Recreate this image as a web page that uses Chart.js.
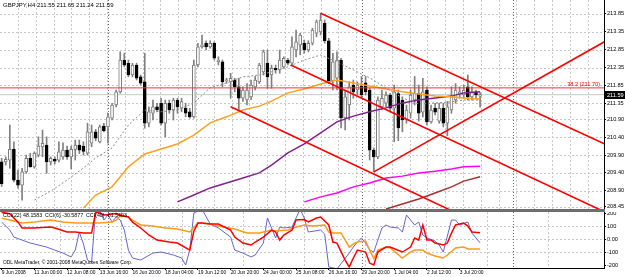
<!DOCTYPE html>
<html>
<head>
<meta charset="utf-8">
<script src="https://cdn.jsdelivr.net/npm/chart.js@4.4.1/dist/chart.umd.min.js"></script>
<style>
  body { margin: 0; background: #fff; }
  #wrap { position: relative; width: 625px; height: 277px; overflow: hidden; background: #fff; font-family: "Liberation Sans", Arial, sans-serif; }
  #priceChart { position: absolute; left: 0; top: 0; }
  #cciChart { position: absolute; left: 0; top: 212px; }
  #sep { position: absolute; left: 0; top: 209px; width: 605px; height: 3px; background: #6e6e6e; }
  .txt { position: absolute; font-size: 6px; line-height: 7px; white-space: nowrap; color: #000; }
</style>
</head>
<body>
<div id="wrap">
  <canvas id="priceChart" width="625" height="209"></canvas>
  <div id="sep"></div>
  <canvas id="cciChart" width="625" height="65"></canvas>
  <div class="txt" style="left:3px; top:2px;">GBPJPY,H4 211.55 211.65 211.24 211.59</div>
  <div class="txt" style="left:3px; top:212px; font-size:5.3px;">CCI(22) 48.1583 &nbsp;CCI(6) -30.5877 &nbsp;CCI(40) -81.5403</div>
  <div class="txt" style="left:3px; top:259px; font-size:4.9px;">ODL MetaTrader, © 2001-2008 MetaQuotes Software Corp.</div>
</div>
<script>
// GBPJPY H4 candles, one entry per bar
const opens = [209.71,209.71,209.76,210.06,209.20,209.06,209.43,209.81,209.57,209.90,210.13,210.18,209.71,209.78,209.76,209.85,210.04,209.85,210.06,210.18,210.15,
  209.95,210.23,210.55,210.27,210.71,210.69,210.93,211.30,211.67,212.56,212.47,212.14,212.42,212.09,211.95,210.79,211.07,211.25,211.35,210.79,211.35,211.16,211.44,211.21,211.21,211.11,210.97,212.42,212.93,213.03,212.93,213.03,212.51,212.51,211.98,
  211.95,212.00,211.81,211.49,211.44,211.53,211.81,211.95,212.23,212.47,212.14,212.33,212.28,212.37,212.56,212.47,212.84,212.98,213.03,212.84,213.03,213.31,213.35,213.59,213.10,211.98,212.05,212.56,210.94,211.30,211.86,211.72,211.83,211.92,211.72,210.04,209.85,211.25,211.35,211.58,211.21,211.62,211.44,210.88,211.07,211.44,211.62,211.10,211.72,210.83,211.21,210.85,211.21,210.79,211.16,211.44,211.58,211.58,211.81,211.53,211.67,211.55];
const highs = [209.81,209.85,210.74,210.27,209.48,209.53,209.90,209.95,209.99,210.41,210.60,210.41,209.85,209.85,210.27,210.24,210.15,210.15,210.32,210.32,210.27,
  210.79,210.74,210.62,210.74,210.79,211.07,211.35,211.72,212.79,212.75,212.56,212.47,212.47,212.14,212.75,211.25,211.44,211.35,211.49,211.44,211.44,211.49,211.49,211.49,211.35,211.21,212.56,213.03,213.26,213.10,213.10,213.07,212.65,212.56,212.05,
  212.19,212.05,212.05,211.81,211.90,212.00,212.10,212.47,212.84,212.84,212.42,212.42,212.84,212.65,212.61,213.21,213.40,213.31,213.12,213.10,213.45,213.68,213.87,213.68,213.17,212.75,212.79,212.61,211.70,211.95,212.00,211.95,212.10,212.10,211.78,210.10,211.53,211.72,211.67,211.63,211.86,211.72,211.53,211.30,211.72,212.10,211.86,212.05,211.81,211.30,211.35,211.35,211.35,211.40,211.81,211.90,211.81,211.86,212.14,211.81,211.72,211.65];
const lows = [209.02,209.62,209.53,209.15,208.97,208.64,209.39,209.56,209.53,209.85,209.85,209.39,209.62,209.65,209.71,209.78,209.78,209.51,209.76,209.94,209.90,
  209.90,210.13,210.30,210.24,210.55,210.23,210.88,211.25,211.63,212.37,212.09,212.09,212.00,211.86,210.65,210.69,210.88,211.11,210.74,210.41,211.07,210.88,211.07,211.11,210.97,210.93,210.93,212.37,212.89,212.84,212.89,212.56,212.42,211.81,211.91,
  211.49,211.67,211.16,211.40,211.30,211.45,211.72,211.90,212.14,211.77,211.77,212.19,212.19,212.33,212.42,212.42,212.65,212.70,212.75,212.79,212.98,213.21,213.26,213.03,211.90,211.72,211.72,210.66,210.60,210.88,211.49,211.60,211.49,211.58,209.76,209.43,209.80,211.16,211.25,211.10,210.27,210.30,210.55,210.79,210.93,211.30,210.85,210.97,210.74,210.79,211.02,210.79,210.69,210.44,211.07,211.35,211.49,211.49,211.44,211.44,211.49,211.24];
const closes = [209.10,209.78,210.06,209.20,209.06,209.43,209.81,209.57,209.95,210.15,210.23,209.71,209.81,209.73,209.99,210.04,209.85,210.06,210.18,210.04,210.00,
  210.55,210.55,210.37,210.69,210.58,210.97,211.30,211.67,212.56,212.42,212.14,212.42,212.05,211.91,210.79,211.11,211.25,211.16,210.79,211.35,211.16,211.44,211.25,211.40,211.07,210.97,212.42,212.93,212.98,212.93,213.03,212.61,212.56,211.95,212.00,
  212.05,211.81,211.49,211.72,211.72,211.86,212.00,212.42,212.79,212.09,212.33,212.28,212.56,212.61,212.47,212.93,213.07,213.26,212.84,213.03,213.40,213.63,213.68,213.10,211.98,212.51,212.56,210.94,211.53,211.81,211.67,211.86,211.58,211.67,210.04,209.85,211.44,211.49,211.58,211.21,211.67,210.66,210.88,211.16,211.58,211.62,211.07,211.67,210.83,211.16,211.10,211.21,210.79,211.25,211.53,211.72,211.67,211.72,211.53,211.67,211.58,211.59];

// moving averages, read at some bars
const maGreyBars = [8,12,16,20,23,27,31,35,39,43,47,51,55,59,63,66,70,74,78,82,86,90,94,98,102,106,110,113,117];
const maGreyVals = [208.64,208.89,209.20,209.54,209.82,210.10,210.74,211.16,211.11,211.16,211.36,211.78,211.92,212.09,212.14,212.23,212.37,212.56,212.70,212.51,212.28,212.06,211.78,211.50,211.33,211.36,211.39,211.44,211.44];
const maOrangeBars = [20,23,27,31,35,39,43,47,51,55,59,63,66,70,74,78,82,86,90,94,98,102,106,110,113,117];
const maOrangeVals = [208.42,208.78,209.01,209.57,209.93,210.07,210.21,210.46,210.80,210.97,211.16,211.27,211.41,211.64,211.75,211.89,212.00,211.92,211.83,211.75,211.67,211.61,211.55,211.53,211.50,211.47];
const maPurpleBars = [43,47,51,55,59,63,66,70,74,78,82,86,90,94,98,102,106,110,113,117];
const maPurpleVals = [208.59,208.78,208.98,209.12,209.26,209.40,209.62,209.96,210.21,210.52,210.83,210.99,211.11,211.22,211.36,211.44,211.50,211.55,211.64,211.67];
const maMagentaBars = [74,78,82,86,90,94,98,102,106,110,113,117];
const maMagentaVals = [208.59,208.73,208.84,209.01,209.12,209.26,209.31,209.40,209.45,209.51,209.57,209.59];
const maBrownBars = [94,98,102,106,110,113,117];
const maBrownVals = [208.39,208.53,208.67,208.84,209.01,209.17,209.29];

// drawn objects
const trendStartBars = [78, 70.7, 56, 91];
const trendStartPrices = [213.87, 212.42, 211.25, 209.43];
const trendEndBars = [148, 148, 148, 148];
const trendEndPrices = [210.18, 208.28, 206.30, 213.11];
const fibLevel = 211.78;
const fibText = '38.2 (211.70)';
const bidPrice = 211.59;
const separatorBars = [26, 88, 125];

// CCI panel
const cci22Bars = [0,2,4,5,8,12,13,16,18,20,22,23,24,25,28,29,31,32,34,36,38,41,43,46,47,48,49,51,53,56,57,59,61,62,64,66,67,68,69,71,72,74,75,77,78,80,81,82,84,85,86,87,89,90,91,92,94,95,98,100,101,102,103,104,105,106,108,109,110,111,113,114,115,117];
const cci22Vals = [205,195,130,85,85,92,85,54,54,46,46,208,200,185,197,185,170,130,85,31,-8,-23,-31,-85,60,123,123,115,115,69,15,-31,-46,-23,15,69,54,-8,31,69,146,150,131,162,169,108,-23,-31,-162,-215,-146,-85,-100,-185,-200,-100,-62,-62,-100,-62,8,-8,108,-8,-8,-31,-46,-31,46,108,123,100,54,48];
const cci6Bars = [0,2,3,5,7,8,11,13,15,17,18,19,20,21,22,23,24,25,26,27,28,29,30,31,32,34,37,39,42,44,45,46,47,49,51,53,56,57,59,61,62,64,65,67,68,69,71,72,73,74,75,78,79,80,82,83,85,86,87,88,89,90,91,93,94,95,97,98,99,101,102,103,104,106,107,108,110,111,112,114,115,117];
const cci6Vals = [131,69,15,-8,-31,-38,-62,-85,-108,-138,-85,54,-38,-162,-180,230,220,146,185,131,170,146,69,-85,-146,-162,-108,-100,-123,-146,-200,-85,200,230,115,85,15,-85,-108,-138,-123,-31,162,8,92,85,92,162,230,162,54,69,38,-215,-230,-190,-108,-62,-23,8,-31,-85,-100,85,108,92,85,54,185,108,131,31,8,-15,-46,-100,146,146,108,131,46,-30];
const cci40Bars = [0,2,5,8,12,15,18,22,24,27,28,29,31,32,34,37,40,43,46,48,51,53,57,60,63,66,67,70,72,74,76,79,80,81,83,85,86,87,89,90,91,92,94,95,98,100,101,103,104,106,108,109,111,113,114,117];
const cci40Vals = [160,146,123,131,146,131,123,123,123,131,146,177,169,146,108,100,85,77,54,123,115,100,77,46,46,69,62,69,92,108,100,108,54,46,46,-62,-38,-23,-15,-85,-150,-85,-62,-69,-146,-100,-85,-85,-108,-131,-146,-123,-69,-62,-77,-77];

// axes
const priceTicks = [213.85,213.35,212.85,212.35,211.85,211.35,210.90,210.40,209.90,209.40,208.90,208.45];
const cciTicks = [200, 100, 0, -100, -200];
const cciGridLevels = [100, 0, -100];
const timeTickBars = [0,8,16,24,32,40,48,56,64,72,80,88,96,104,112];
const timeTickLabels = ['9 Jun 2008','11 Jun 00:00','12 Jun 08:00','13 Jun 16:00','16 Jun 20:00','18 Jun 04:00','19 Jun 12:00','20 Jun 20:00','24 Jun 00:00','25 Jun 08:00','26 Jun 16:00','29 Jun 20:00','1 Jul 04:00','2 Jul 12:00','3 Jul 20:00'];

const xMin = -0.4, xMax = 147.3;
const tickFont = { family: 'Liberation Sans', size: 5.6 };

function pts(bars, vals) {
  return bars.map((b, i) => ({ x: b, y: vals[i] }));
}

function lineSet(data, color, width, dash, order) {
  return { type: 'line', data: data, borderColor: color, borderWidth: width, borderDash: dash || [],
    pointRadius: 0, fill: false, tension: 0, order: order };
}

// dashed MT style grid and the dotted separators
const gridPlugin = {
  id: 'mtGrid',
  beforeDatasetsDraw(chart, args, opts) {
    const { ctx, chartArea: a, scales } = chart;
    ctx.save();
    ctx.lineWidth = 1;
    ctx.strokeStyle = '#c8c8c8';
    ctx.setLineDash([2, 2]);
    ctx.beginPath();
    for (let px = a.left + opts.xStart; px < a.right - 2; px += opts.xStep) {
      const xx = Math.round(px) + 0.5;
      ctx.moveTo(xx, a.top); ctx.lineTo(xx, a.bottom);
    }
    opts.yLevels.forEach(v => {
      const yy = Math.round(scales.y.getPixelForValue(v)) + 0.5;
      ctx.moveTo(a.left, yy); ctx.lineTo(a.right, yy);
    });
    ctx.stroke();
    ctx.strokeStyle = '#6a6a6a';
    ctx.setLineDash([1, 2]);
    ctx.beginPath();
    separatorBars.forEach(b => {
      const xx = Math.round(scales.x.getPixelForValue(b)) + 0.5;
      ctx.moveTo(xx, a.top); ctx.lineTo(xx, a.bottom);
    });
    ctx.stroke();
    ctx.restore();
  }
};

const priceLabels = {
  id: 'priceLabels',
  afterDraw(chart) {
    const { ctx, chartArea: a, scales: { y } } = chart;
    ctx.save();
    ctx.font = '5.6px "Liberation Sans"';
    ctx.fillStyle = '#ff0000';
    ctx.textAlign = 'right';
    ctx.textBaseline = 'bottom';
    ctx.fillText(fibText, a.right - 4, y.getPixelForValue(fibLevel) - 1);
    const by = y.getPixelForValue(bidPrice);
    ctx.fillStyle = '#000';
    ctx.fillRect(a.right + 1, Math.round(by) - 4, 20, 8);
    ctx.fillStyle = '#fff';
    ctx.textAlign = 'left';
    ctx.textBaseline = 'middle';
    ctx.fillText(bidPrice.toFixed(2), a.right + 3, Math.round(by));
    ctx.restore();
  }
};

const bars = opens.map((_, i) => i);
const bull = bars.map(i => closes[i] >= opens[i]);

const trendSets = trendStartBars.map((b, k) =>
  lineSet([{ x: b, y: trendStartPrices[k] }, { x: trendEndBars[k], y: trendEndPrices[k] }], '#ff0000', 1.6, null, 1));

new Chart(document.getElementById('priceChart'), {
  type: 'bar',
  data: {
    datasets: [
      ...trendSets,
      lineSet([{ x: xMin, y: fibLevel }, { x: xMax, y: fibLevel }], '#ff3030', 1, null, 2),
      lineSet(pts(maGreyBars, maGreyVals), '#8c8c8c', 1, [2, 2], 4),
      lineSet(pts(maOrangeBars, maOrangeVals), '#ffa020', 1.5, null, 4),
      lineSet(pts(maPurpleBars, maPurpleVals), '#84208e', 1.5, null, 4),
      lineSet(pts(maMagentaBars, maMagentaVals), '#ff00ff', 1.5, null, 4),
      lineSet(pts(maBrownBars, maBrownVals), '#a83030', 1.5, null, 4),
      {
        data: bars.map(i => ({ x: i, y: [opens[i], closes[i]] })),
        backgroundColor: bull.map(u => u ? '#ffffff' : '#000000'),
        borderColor: bull.map(u => u ? '#7c7c7c' : '#000000'),
        borderWidth: 1, borderSkipped: false, barThickness: 3, minBarLength: 1,
        grouped: false, order: 8
      },
      {
        data: bars.map(i => ({ x: i, y: [lows[i], highs[i]] })),
        backgroundColor: '#808080', barThickness: 1, grouped: false, order: 9
      },
      lineSet([{ x: xMin, y: bidPrice }, { x: xMax, y: bidPrice }], '#c8c8c8', 1, null, 10)
    ]
  },
  options: {
    responsive: false,
    animation: false,
    layout: { padding: 0 },
    plugins: {
      legend: { display: false },
      tooltip: { enabled: false },
      mtGrid: { xStart: 18, xStep: 17.8, yLevels: priceTicks }
    },
    scales: {
      x: { type: 'linear', min: xMin, max: xMax, offset: false, display: false },
      y: {
        type: 'linear', position: 'right', min: 208.39, max: 214.24,
        afterBuildTicks: s => { s.ticks = priceTicks.map(v => ({ value: v })); },
        afterFit: s => { s.width = 21; s.paddingTop = 0; s.paddingBottom = 0; },
        grid: { display: true, drawOnChartArea: false, tickLength: 2, color: '#000' },
        border: { display: true, color: '#000' },
        ticks: { font: tickFont, color: '#000', padding: 1, callback: v => v.toFixed(2) }
      }
    }
  },
  plugins: [gridPlugin, priceLabels]
});

new Chart(document.getElementById('cciChart'), {
  type: 'line',
  data: {
    datasets: [
      lineSet(pts(cci22Bars, cci22Vals), '#ff0000', 1.5, null, 1),
      lineSet(pts(cci40Bars, cci40Vals), '#ff9a1a', 1.5, null, 2),
      lineSet(pts(cci6Bars, cci6Vals), '#6464d0', 1, null, 3)
    ]
  },
  options: {
    responsive: false,
    animation: false,
    layout: { padding: 0 },
    plugins: {
      legend: { display: false },
      tooltip: { enabled: false },
      mtGrid: { xStart: 60, xStep: 61, yLevels: cciGridLevels }
    },
    scales: {
      x: {
        type: 'linear', min: xMin, max: xMax, offset: false,
        afterBuildTicks: s => { s.ticks = timeTickBars.map(v => ({ value: v })); },
        afterFit: s => { s.height = 9; s.paddingLeft = 0; s.paddingRight = 0; },
        grid: { display: true, drawOnChartArea: false, tickLength: 2, color: '#000' },
        border: { display: true, color: '#000' },
        ticks: {
          font: { family: 'Liberation Sans', size: 4.9 }, color: '#000', padding: 0, align: 'start', maxRotation: 0, autoSkip: false,
          callback: v => timeTickLabels[timeTickBars.indexOf(v)]
        }
      },
      y: {
        type: 'linear', position: 'right', min: -223, max: 208,
        afterBuildTicks: s => { s.ticks = cciTicks.map(v => ({ value: v })); },
        afterFit: s => { s.width = 21; s.paddingTop = 0; s.paddingBottom = 0; },
        grid: { display: true, drawOnChartArea: false, tickLength: 2, color: '#000' },
        border: { display: true, color: '#000' },
        ticks: { font: tickFont, color: '#000', padding: 1, callback: v => v === 0 ? '0.00' : String(v) }
      }
    }
  },
  plugins: [gridPlugin]
});
</script>
</body>
</html>
